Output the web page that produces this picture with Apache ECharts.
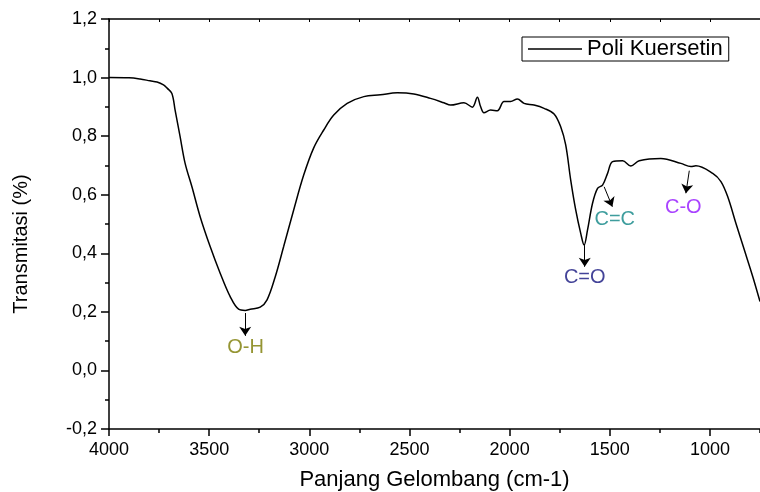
<!DOCTYPE html>
<html>
<head>
<meta charset="utf-8">
<script src="https://cdn.jsdelivr.net/npm/echarts@6/dist/echarts.min.js"></script>
<style>
  html, body { margin: 0; padding: 0; background: #fff; }
  #myChart { width: 760px; height: 492px; }
</style>
</head>
<body>
<div id="myChart"></div>
<script>
// FTIR spectrum
const waveNumber = [4000, 3900, 3845, 3795, 3760, 3728, 3710, 3686, 3670, 3645, 3620, 3586, 3545, 3495, 3445, 3395,
  3353, 3320, 3295, 3245, 3211, 3170, 3128, 3078, 3028, 2978, 2928, 2878, 2811, 2728, 2645, 2561, 2478, 2395, 2328,
  2295, 2228, 2186, 2161, 2145, 2128, 2095, 2061, 2028, 1995, 1961, 1928, 1878, 1828, 1778, 1745, 1720, 1695, 1670,
  1645, 1628, 1611, 1586, 1561, 1536, 1511, 1486, 1436, 1395, 1353, 1245, 1145, 1095, 1070, 986, 945, 911, 870,
  828, 786, 750]
const transmitasi = [1.000, 0.999, 0.995, 0.989, 0.985, 0.975, 0.964, 0.946, 0.889, 0.798, 0.707, 0.627, 0.525, 0.423,
  0.332, 0.252, 0.209, 0.205, 0.209, 0.216, 0.241, 0.320, 0.423, 0.548, 0.667, 0.760, 0.821, 0.872, 0.912, 0.935,
  0.941, 0.948, 0.944, 0.929, 0.914, 0.906, 0.914, 0.899, 0.933, 0.901, 0.880, 0.889, 0.887, 0.918, 0.918, 0.927,
  0.912, 0.906, 0.895, 0.876, 0.832, 0.770, 0.650, 0.548, 0.468, 0.428, 0.480, 0.571, 0.622, 0.633, 0.673, 0.713,
  0.716, 0.698, 0.716, 0.724, 0.707, 0.696, 0.699, 0.673, 0.645, 0.593, 0.502, 0.411, 0.320, 0.235]

const xMajorTicks = [4000, 3500, 3000, 2500, 2000, 1500, 1000]

// peak annotations (arrow start, arrow end, label position) in data units
const peakNames = ['O-H', 'C=O', 'C=C', 'C-O']
const arrowFrom = [[3320, 0.196], [1625, 0.428], [1528, 0.627], [1103, 0.682]]
const arrowTo = [[3320, 0.118], [1625, 0.354], [1487, 0.559], [1120, 0.605]]
const labelAt = [[3318, 0.080], [1625, 0.316], [1475, 0.516], [1133, 0.557]]
const peakColors = ['#7a7a00', '#14147e', '#0e8585', '#9414ff']

const FONT = 'Liberation Sans, Arial, sans-serif'

const xBase = {
  type: 'value',
  inverse: true,
  min: 750,
  max: 4000,
  gridIndex: 0,
  splitLine: { show: false }
}

const myChart = echarts.init(document.getElementById('myChart'))
myChart.setOption({
  animation: false,
  grid: { left: 109, right: 0, top: 19, bottom: 63, containLabel: false, outerBoundsMode: 'none' },
  legend: {
    data: [{ name: 'Poli Kuersetin', icon: 'rect' }],
    left: 522,
    top: 37,
    itemWidth: 54,
    itemHeight: 1.5,
    padding: [1, 6, 1, 6],
    borderColor: '#000',
    borderWidth: 1,
    borderRadius: 0,
    textStyle: { color: '#000', fontSize: 22, fontFamily: FONT }
  },
  xAxis: [
    Object.assign({}, xBase, {
      position: 'bottom',
      interval: 250,
      name: 'Panjang Gelombang (cm-1)',
      nameLocation: 'middle',
      nameGap: 40,
      nameTextStyle: { color: '#000', fontSize: 22, fontFamily: FONT },
      axisLine: { show: true, onZero: false, lineStyle: { color: '#000', width: 1.5 } },
      axisTick: { show: true, length: 4, lineStyle: { color: '#000', width: 1.5 } },
      axisLabel: {
        color: '#000', fontSize: 18, fontFamily: FONT, margin: 12,
        formatter: v => (v % 500 === 0 ? String(v) : '')
      }
    }),
    Object.assign({}, xBase, {
      position: 'bottom',
      axisLine: { show: false, onZero: false },
      axisTick: { show: true, length: 7, customValues: xMajorTicks, lineStyle: { color: '#000', width: 1.5 } },
      axisLabel: { show: false }
    }),
    Object.assign({}, xBase, {
      position: 'top',
      interval: 250,
      axisLine: { show: true, onZero: false, lineStyle: { color: '#000', width: 1.5 } },
      axisTick: { show: true, inside: true, length: 3, lineStyle: { color: '#000', width: 1 } },
      axisLabel: { show: false }
    })
  ],
  yAxis: {
    type: 'value',
    min: -0.2,
    max: 1.2,
    interval: 0.2,
    name: 'Transmitasi (%)',
    nameLocation: 'middle',
    nameGap: 78,
    nameTextStyle: { color: '#000', fontSize: 20, fontFamily: FONT, padding: [0, 40, 0, 0] },
    splitLine: { show: false },
    axisLine: { show: true, onZero: false, lineStyle: { color: '#000', width: 1.5 } },
    axisTick: { show: true, length: 8, lineStyle: { color: '#000', width: 1.5 } },
    minorTick: { show: true, splitNumber: 2, length: 4, lineStyle: { color: '#000', width: 1.5 } },
    axisLabel: {
      color: '#000', fontSize: 18, fontFamily: FONT, margin: 12,
      formatter: v => v.toFixed(1).replace('.', ',')
    }
  },
  series: [
    {
      name: 'Poli Kuersetin',
      type: 'line',
      xAxisIndex: 0,
      data: waveNumber.map((w, i) => [w, transmitasi[i]]),
      showSymbol: false,
      smooth: 0.35,
      itemStyle: { color: '#000' },
      lineStyle: { color: '#000', width: 1.5 },
      markLine: {
        silent: true,
        symbol: ['none', 'arrow'],
        symbolSize: 9,
        label: { show: false },
        lineStyle: { color: '#000', width: 1, type: 'solid' },
        data: arrowFrom.map((a, i) => [{ coord: a }, { coord: arrowTo[i] }])
      }
    },
    {
      name: 'peaks',
      type: 'scatter',
      xAxisIndex: 0,
      symbolSize: 0,
      silent: true,
      data: labelAt.map((p, i) => ({
        value: p,
        label: {
          show: true,
          position: 'inside',
          formatter: peakNames[i],
          color: peakColors[i],
          textBorderWidth: 0,
          fontSize: 20,
          fontFamily: FONT
        }
      }))
    }
  ]
})
</script>
</body>
</html>
